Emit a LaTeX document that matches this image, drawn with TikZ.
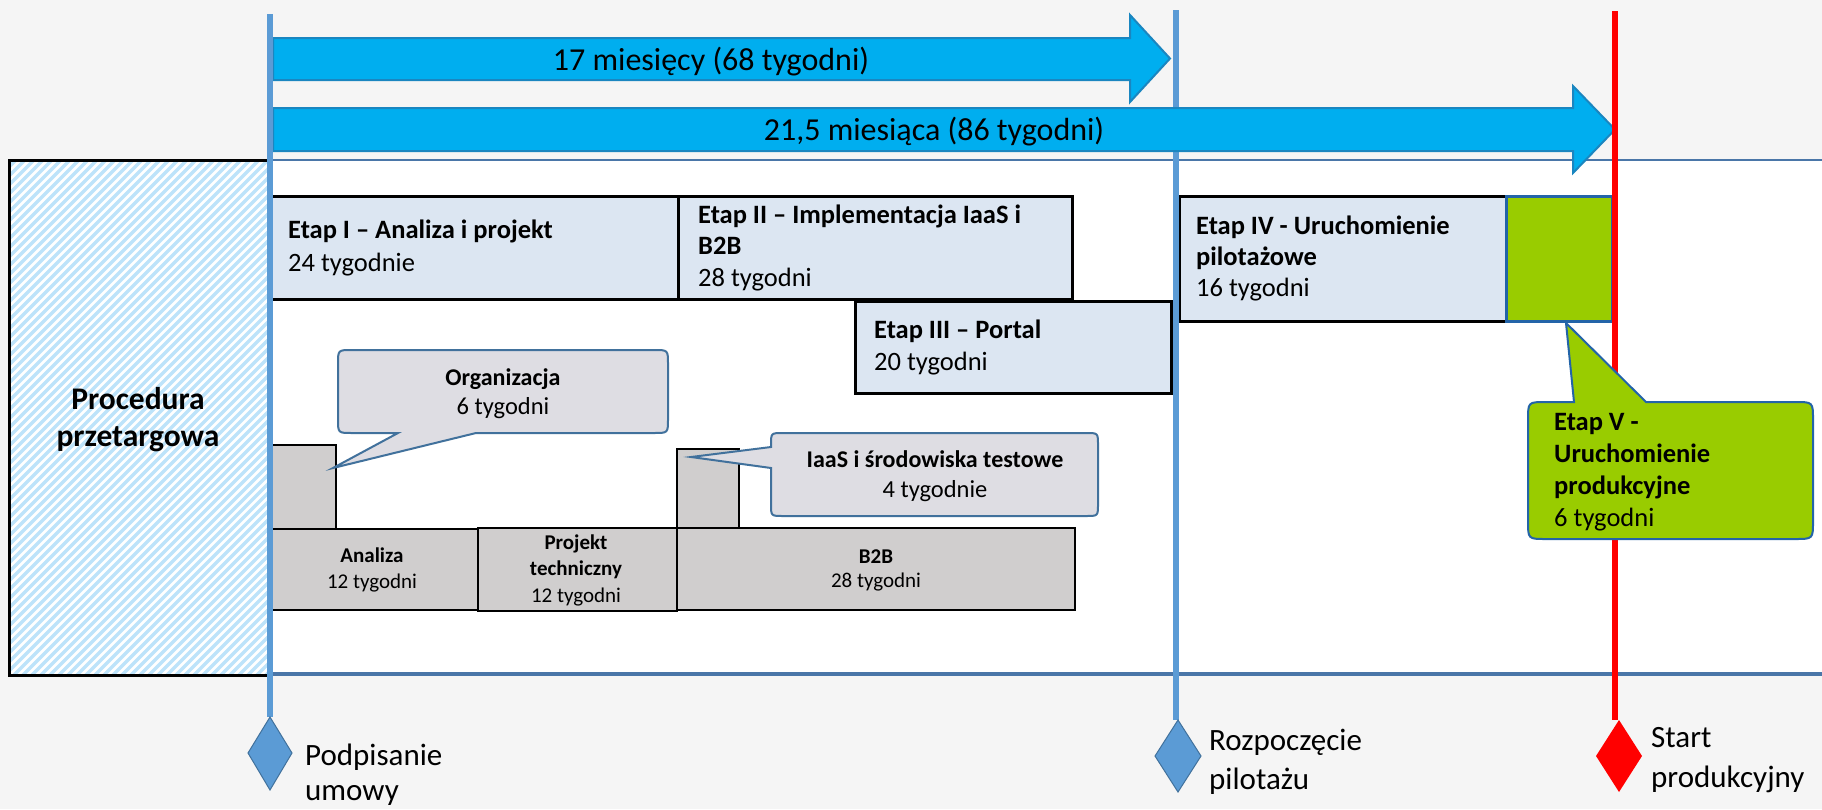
\documentclass[tikz,border=0pt]{standalone}
\usepackage{fontspec}
\setmainfont{Carlito}
\definecolor{bgc}{HTML}{F5F5F5}
\definecolor{hatchc}{HTML}{BDE3FA}
\definecolor{vline}{HTML}{5B9BD5}
\definecolor{arrowf}{HTML}{00AEEF}
\definecolor{arrowd}{HTML}{1A86C0}
\definecolor{etapf}{HTML}{DCE6F2}
\definecolor{grayf}{HTML}{D0CECE}
\definecolor{callf}{HTML}{DEDDE3}
\definecolor{calld}{HTML}{41719C}
\definecolor{greenf}{HTML}{99CC00}
\definecolor{greend}{HTML}{2364A8}
\definecolor{bandl}{HTML}{4A76A8}
\begin{document}
\begin{tikzpicture}[x=1pt,y=-1pt,
  lbl/.style={inner sep=0pt, anchor=base west},
  lblc/.style={inner sep=0pt, anchor=base},
  fE/.style={font=\fontsize{26.5}{32}\selectfont},
  fEb/.style={font=\fontsize{26.5}{32}\selectfont\bfseries},
  fS/.style={font=\fontsize{21}{25}\selectfont},
  fSb/.style={font=\fontsize{21}{25}\selectfont\bfseries},
  fM/.style={font=\fontsize{24.5}{29}\selectfont},
  fMb/.style={font=\fontsize{24}{29}\selectfont\bfseries},
  fL/.style={font=\fontsize{31}{38}\selectfont},
  fA/.style={font=\fontsize{32}{38}\selectfont},
  fLb/.style={font=\fontsize{31.5}{38}\selectfont\bfseries},
  etapbox/.style={draw=black, line width=2.5pt, fill=etapf, anchor=north west, inner sep=0pt},
  graybox/.style={draw=black, line width=2pt, fill=grayf, anchor=north west, inner sep=0pt},
  callout/.style={draw=calld, line width=2pt, fill=callf},
  bigarrow/.style={draw=arrowd, line width=2pt, fill=arrowf, line join=miter},
  vbar/.style={line width=6pt},
  milestone/.style={draw=calld, line width=1pt, fill=vline},
]
\useasboundingbox (0,0) rectangle (1822,809);
\fill[bgc] (0,0) rectangle (1822,809);
% white band
\fill[white] (268,160) rectangle (1822,674);
\draw[bandl, line width=2pt] (268,160) -- (1822,160);
\draw[bandl, line width=3.5pt] (268,674) -- (1822,674);
% hatched box
\begin{scope}
\clip (9,160) rectangle (268,675);
\fill[white] (9,160) rectangle (268,675);
\foreach \i in {-60,...,30} {\draw[hatchc, line width=3.4pt] ({9+\i*9},680) -- ++(530,-530);}
\end{scope}
\draw[black, line width=3pt] (268,160) -- (9,160) -- (9,675) -- (268,675);
\node[lblc,fLb] (proc1) at (138,409) {Procedura};
\node[lblc,fLb] (proc2) at (138,446) {przetargowa};

% Etap boxes
\node[etapbox, minimum width=407, minimum height=103] (etap1) at (270,195) {};
\node[etapbox, minimum width=394, minimum height=103] (etap2) at (677,195) {};
\node[etapbox, minimum width=316, minimum height=92] (etap3) at (854,300) {};
\node[etapbox, minimum width=327, minimum height=125] (etap4) at (1178,195) {};
\node[draw=greend, line width=3pt, fill=greenf, anchor=north west, inner sep=0pt, minimum width=106, minimum height=125] (etap5sq) at (1505,195) {};

\node[lbl,fEb] (e1t) at (288,238) {Etap I – Analiza i projekt};
\node[lbl,fE] (e1d) at (288,271) {24 tygodnie};
\node[lbl,fEb] (e2t) at (698,223) {Etap II – Implementacja IaaS i};
\node[lbl,fEb] (e2u) at (698,254) {B2B};
\node[lbl,fE] (e2d) at (698,286) {28 tygodni};
\node[lbl,fEb] (e3t) at (874,338) {Etap III – Portal};
\node[lbl,fE] (e3d) at (874,370) {20 tygodni};
\node[lbl,fEb] (e4t) at (1196,234) {Etap IV - Uruchomienie};
\node[lbl,fEb] (e4u) at (1196,265) {pilotażowe};
\node[lbl,fE] (e4d) at (1196,296) {16 tygodni};

% gray boxes
\node[graybox, minimum width=65, minimum height=84] (orgbar) at (270,444) {};
\node[graybox, minimum width=62, minimum height=79] (iaasbar) at (676,448) {};
\node[graybox, minimum width=207, minimum height=81] (analiza) at (270,528) {};
\node[graybox, minimum width=199, minimum height=83] (projekt) at (477,527) {};
\node[graybox, minimum width=398, minimum height=82] (b2b) at (676,527) {};
\node[lblc,fSb] (an1) at (372,562) {Analiza};
\node[lblc,fS] (an2) at (372,588) {12 tygodni};
\node[lblc,fSb] (pr1) at (576,549) {Projekt};
\node[lblc,fSb] (pr2) at (576,575) {techniczny};
\node[lblc,fS] (pr3) at (576,602) {12 tygodni};
\node[lblc,fSb] (bb1) at (876,563) {B2B};
\node[lblc,fS] (bb2) at (876,587) {28 tygodni};

% callouts
\draw[callout] (333,468) -- (398,433) -- (352,433) .. controls (338,433) .. (338,419)
  -- (338,364) .. controls (338,350) .. (352,350) -- (654,350) .. controls (668,350) .. (668,364)
  -- (668,419) .. controls (668,433) .. (654,433) -- (476,433) -- cycle;
\node[lblc,fMb] (org1) at (503,385) {Organizacja};
\node[lblc,fM] (org2) at (503,414) {6 tygodni};

\draw[callout] (691,457) -- (771,447) -- (771,445) .. controls (771,433) .. (783,433)
  -- (1086,433) .. controls (1098,433) .. (1098,445) -- (1098,504) .. controls (1098,516) .. (1086,516)
  -- (783,516) .. controls (771,516) .. (771,504) -- (771,468) -- cycle;
\node[lblc,fMb] (ia1) at (935,467) {IaaS i środowiska testowe};
\node[lblc,fM] (ia2) at (935,497) {4 tygodnie};

% vertical line 2 (under arrows)
\draw[vbar, vline] (1176,10) -- (1176,720);

% arrows
\draw[bigarrow] (273,38) -- (1130,38) -- (1130,15) -- (1170,58.5) -- (1130,102) -- (1130,80) -- (273,80) -- cycle;
\draw[bigarrow] (273,108) -- (1573,108) -- (1573,86) -- (1615,129.5) -- (1573,173) -- (1573,151) -- (273,151) -- cycle;
\node[lblc,fA] (a1t) at (711,70) {17 miesięcy (68 tygodni)};
\node[lblc,fA] (a2t) at (934,140) {21,5 miesiąca (86 tygodni)};

% vertical lines 1 and red
\draw[vbar, vline] (270,14) -- (270,717);
\draw[vbar, red] (1615,11) -- (1615,720);

% green callout (over the red line)
\draw[draw=greend, line width=2pt, fill=greenf] (1566,323) -- (1646,402) -- (1795,402) .. controls (1813,402) .. (1813,420)
  -- (1813,521) .. controls (1813,539) .. (1795,539) -- (1546,539) .. controls (1528,539) .. (1528,521)
  -- (1528,420) .. controls (1528,402) .. (1546,402) -- (1574,402) -- cycle;
\node[lbl,fEb] (e5a) at (1554,430) {Etap V -};
\node[lbl,fEb] (e5b) at (1554,462) {Uruchomienie};
\node[lbl,fEb] (e5c) at (1554,494) {produkcyjne};
\node[lbl,fE] (e5d) at (1554,526) {6 tygodni};

% milestones
\path[milestone] (270,717) -- (292,753) -- (270,790) -- (248,753) -- cycle;
\node[inner sep=0pt] (ms1) at (270,753) {};
\path[milestone] (1178,720) -- (1201,756) -- (1178,792) -- (1155,756) -- cycle;
\node[inner sep=0pt] (ms2) at (1178,756) {};
\fill[red] (1619,720) -- (1642,756) -- (1619,792) -- (1596,756) -- cycle;
\node[inner sep=0pt] (ms3) at (1619,756) {};

\node[lbl,fL] (l1a) at (305,765) {Podpisanie};
\node[lbl,fL] (l1b) at (305,800) {umowy};
\node[lbl,fL] (l2a) at (1209,750) {Rozpoczęcie};
\node[lbl,fL] (l2b) at (1209,789) {pilotażu};
\node[lbl,fL] (l3a) at (1651,747) {Start};
\node[lbl,fL] (l3b) at (1651,787) {produkcyjny};
\end{tikzpicture}
\end{document}
